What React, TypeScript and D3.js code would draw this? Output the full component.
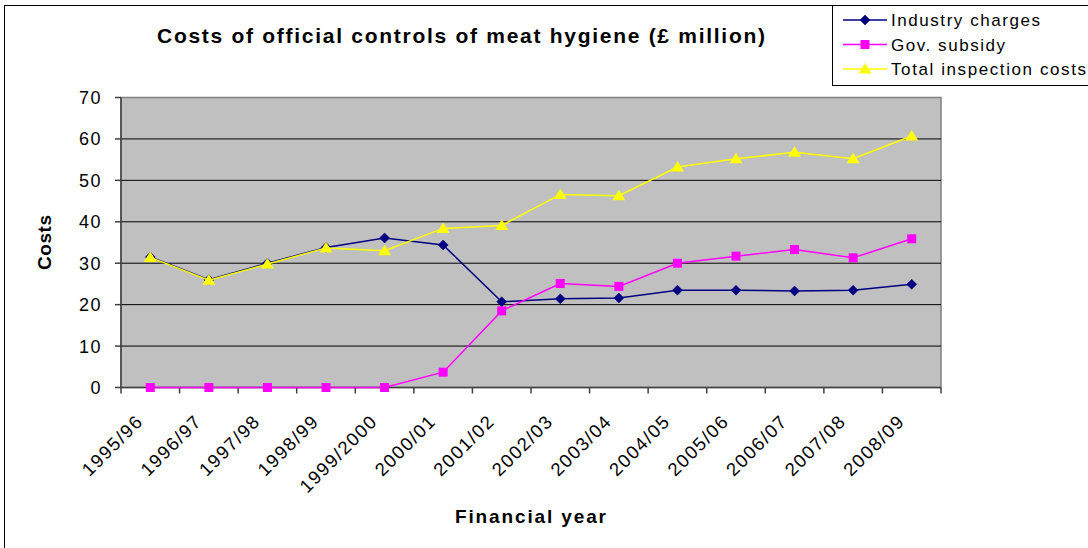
import React from "react";
import * as d3 from "d3";

const years = [
  "1995/96", "1996/97", "1997/98", "1998/99", "1999/2000", "2000/01", "2001/02",
  "2002/03", "2003/04", "2004/05", "2005/06", "2006/07", "2007/08", "2008/09",
];
const industryCharges = [31.5, 26.0, 30.0, 33.8, 36.1, 34.4, 20.7, 21.4, 21.6, 23.5, 23.5, 23.3, 23.5, 24.9];
const govSubsidy = [0, 0, 0, 0, 0, 3.7, 18.5, 25.1, 24.4, 30.0, 31.7, 33.3, 31.3, 35.9];
const totalInspection = [31.4, 25.9, 29.8, 33.7, 33.0, 38.4, 39.1, 46.6, 46.3, 53.2, 55.2, 56.8, 55.2, 60.7];
const yTicks = [0, 10, 20, 30, 40, 50, 60, 70];

const W = 1088;
const H = 548;
const plot = { left: 121, right: 941, top: 97.5, bottom: 387.5 };
const font = "'Liberation Sans', Arial, sans-serif";

type Series = { name: string; values: number[]; color: string; marker: "diamond" | "square" | "triangle"; legendWidth: number };

const series: Series[] = [
  { name: "Industry charges", values: industryCharges, color: "#000080", marker: "diamond", legendWidth: 149 },
  { name: "Gov. subsidy", values: govSubsidy, color: "#FF00FF", marker: "square", legendWidth: 114 },
  { name: "Total inspection costs", values: totalInspection, color: "#FFFF00", marker: "triangle", legendWidth: 195 },
];

function Marker({ kind, x, y, color }: { kind: Series["marker"]; x: number; y: number; color: string }) {
  if (kind === "diamond") {
    const r = 5;
    return <path d={`M${x},${y - r}L${x + r},${y}L${x},${y + r}L${x - r},${y}Z`} fill={color} stroke={color} strokeWidth={0.5} />;
  }
  if (kind === "square") {
    const r = 4.5;
    return <rect x={x - r} y={y - r} width={2 * r} height={2 * r} fill={color} />;
  }
  const s = 6.5;
  return <path d={`M${x},${y - 6}L${x + s},${y + 4.5}L${x - s},${y + 4.5}Z`} fill={color} />;
}

export default function App() {
  const x = d3.scaleBand<string>().domain(years).range([plot.left, plot.right]).padding(0);
  const y = d3.scaleLinear().domain([0, 70]).range([plot.bottom, plot.top]);
  const cx = (i: number) => (x(years[i]) as number) + x.bandwidth() / 2;
  const line = d3.line<number>().x((_, i) => cx(i)).y((v) => y(v));
  const boundaries = years.map((yr) => x(yr) as number).concat([plot.right]);

  return (
    <svg width={W} height={H} style={{ position: "absolute", left: 0, top: 0 }} fontFamily={font}>
      <rect x={0} y={0} width={W} height={H} fill="#fff" />
      <rect x={4.5} y={5.5} width={W + 10} height={H + 10} fill="none" stroke="#000" strokeWidth={1} />

      <text x={157} y={42.5} fontSize={21} fontWeight="bold" fill="#000" textLength={608} lengthAdjust="spacing">
        Costs of official controls of meat hygiene (£ million)
      </text>

      {/* plot area */}
      <rect x={plot.left} y={plot.top} width={plot.right - plot.left} height={plot.bottom - plot.top} fill="#C0C0C0" stroke="#808080" strokeWidth={1.5} />
      {yTicks.slice(1, -1).map((t) => (
        <line key={t} x1={plot.left} x2={plot.right} y1={y(t)} y2={y(t)} stroke="#000" strokeWidth={1} />
      ))}
      <line x1={plot.left} x2={plot.right} y1={plot.bottom} y2={plot.bottom} stroke="#404040" strokeWidth={1.5} />
      <line x1={plot.left} x2={plot.left} y1={plot.top} y2={plot.bottom} stroke="#404040" strokeWidth={1.5} />

      {/* y axis */}
      {yTicks.map((t) => (
        <g key={t}>
          <line x1={plot.left - 6} x2={plot.left} y1={y(t)} y2={y(t)} stroke="#404040" strokeWidth={1.5} />
          <text x={plot.left - 19} y={y(t)} dy="0.36em" textAnchor="end" fontSize={18} letterSpacing={1.5} fill="#000">
            {t}
          </text>
        </g>
      ))}
      <text transform={`translate(51,242.5) rotate(-90)`} x={-27.5} fontSize={19} fontWeight="bold" fill="#000" textLength={55} lengthAdjust="spacing">
        Costs
      </text>

      {/* x axis */}
      {boundaries.map((b, i) => (
        <line key={i} x1={b} x2={b} y1={plot.bottom} y2={plot.bottom + 6} stroke="#404040" strokeWidth={1.5} />
      ))}
      {years.map((yr, i) => (
        <text
          key={yr}
          transform={`translate(${cx(i) - 6},${plot.bottom + 35}) rotate(-45)`}
          textAnchor="end"
          fontSize={18.5}
          letterSpacing={1.5}
          fill="#000"
        >
          {yr}
        </text>
      ))}
      <text x={455} y={523} fontSize={19} fontWeight="bold" fill="#000" textLength={151} lengthAdjust="spacing">
        Financial year
      </text>

      {/* series */}
      {series.map((s) => (
        <g key={s.name}>
          <path d={line(s.values) as string} fill="none" stroke={s.color} strokeWidth={1.5} />
          {s.values.map((v, i) => (
            <Marker key={i} kind={s.marker} x={cx(i)} y={y(v)} color={s.color} />
          ))}
        </g>
      ))}

      {/* legend */}
      <rect x={832.5} y={5.5} width={W} height={80} fill="#fff" stroke="#000" strokeWidth={1} />
      {series.map((s, i) => {
        const ly = 20 + i * 24.5;
        return (
          <g key={s.name}>
            <line x1={843} x2={887} y1={ly} y2={ly} stroke={s.color} strokeWidth={1.5} />
            <Marker kind={s.marker} x={865} y={ly} color={s.color} />
            <text x={891} y={ly} dy="0.36em" fontSize={17} fill="#000" textLength={s.legendWidth} lengthAdjust="spacing">
              {s.name}
            </text>
          </g>
        );
      })}
    </svg>
  );
}
